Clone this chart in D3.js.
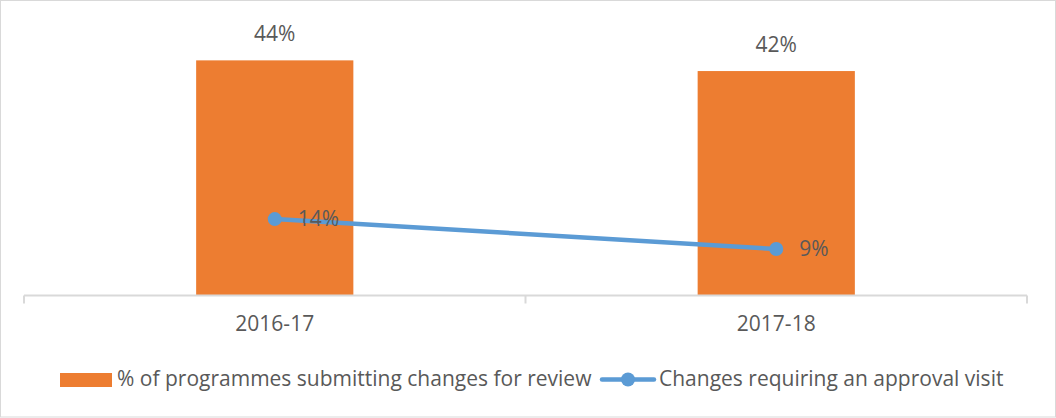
<!DOCTYPE html>
<html>
<head>
<meta charset="utf-8">
<script src="https://cdn.jsdelivr.net/npm/d3@7"></script>
<style>
  body { margin: 0; background: #fff; }
  text { font-family: "Open Sans", "Noto Sans", sans-serif; fill: #595959; }
</style>
</head>
<body>
<div id="chart"></div>
<script>
// chart data
const categories = ["2016-17", "2017-18"];
const barValues = [0.44, 0.42];          // % of programmes submitting changes for review
const lineValues = [0.143, 0.087];       // changes requiring an approval visit
const barLabels = ["44%", "42%"];
const lineLabels = ["14%", "9%"];
const seriesNames = ["% of programmes submitting changes for review", "Changes requiring an approval visit"];

const width = 1056, height = 418;
const barColor = "#ED7D31", lineColor = "#5B9BD5", axisColor = "#d9d9d9";
const fontSize = 21;

const svg = d3.select("#chart").append("svg")
    .attr("width", width)
    .attr("height", height);

// outer chart border
svg.append("rect")
    .attr("x", 0.5).attr("y", 0.5)
    .attr("width", width - 1).attr("height", height - 1.5)
    .attr("fill", "none")
    .attr("stroke", axisColor);

const x = d3.scaleBand()
    .domain(categories)
    .range([24, 1027]);

const y = d3.scaleLinear()
    .domain([0, 0.5])
    .range([295.5, 28.3]);

const barW = x.bandwidth() / 3.19; // gap width ~219%

// bars
svg.append("g").selectAll("rect")
    .data(categories)
    .join("rect")
    .attr("x", d => x(d) + (x.bandwidth() - barW) / 2)
    .attr("y", (d, i) => y(barValues[i]))
    .attr("width", barW)
    .attr("height", (d, i) => y(0) - y(barValues[i]))
    .attr("fill", barColor);

// bar labels
svg.append("g").selectAll("text")
    .data(categories)
    .join("text")
    .attr("x", d => x(d) + x.bandwidth() / 2)
    .attr("y", (d, i) => y(barValues[i]) - 25)
    .attr("text-anchor", "middle")
    .attr("dominant-baseline", "middle")
    .attr("font-size", fontSize)
    .text((d, i) => barLabels[i]);

// x axis: baseline plus outer/inner tick marks
const axis = svg.append("g").attr("transform", `translate(0,${y(0)})`);
axis.append("line")
    .attr("x1", x.range()[0]).attr("x2", x.range()[1])
    .attr("stroke", axisColor).attr("stroke-width", 2);
const tickPos = [x.range()[0]].concat(categories.map(d => x(d) + x.bandwidth()));
axis.selectAll("line.tick")
    .data(tickPos)
    .join("line")
    .attr("class", "tick")
    .attr("x1", d => d).attr("x2", d => d)
    .attr("y1", 0).attr("y2", 8)
    .attr("stroke", axisColor).attr("stroke-width", 2);
axis.selectAll("text")
    .data(categories)
    .join("text")
    .attr("x", d => x(d) + x.bandwidth() / 2)
    .attr("y", 30)
    .attr("text-anchor", "middle")
    .attr("dominant-baseline", "middle")
    .attr("font-size", fontSize)
    .text(d => d);

// line series
const line = d3.line()
    .x((d, i) => x(categories[i]) + x.bandwidth() / 2)
    .y(d => y(d));

svg.append("path")
    .datum(lineValues)
    .attr("d", line)
    .attr("fill", "none")
    .attr("stroke", lineColor)
    .attr("stroke-width", 4.5)
    .attr("stroke-linecap", "round");

svg.append("g").selectAll("circle")
    .data(lineValues)
    .join("circle")
    .attr("cx", (d, i) => x(categories[i]) + x.bandwidth() / 2)
    .attr("cy", d => y(d))
    .attr("r", 7)
    .attr("fill", lineColor);

svg.append("g").selectAll("text")
    .data(lineValues)
    .join("text")
    .attr("x", (d, i) => x(categories[i]) + x.bandwidth() / 2 + 23)
    .attr("y", d => y(d) + 1)
    .attr("dominant-baseline", "middle")
    .attr("font-size", fontSize)
    .text((d, i) => lineLabels[i]);

// legend
const legend = svg.append("g");
legend.append("rect")
    .attr("x", 60).attr("y", 373)
    .attr("width", 52).attr("height", 14)
    .attr("fill", barColor);
legend.append("text")
    .attr("x", 117).attr("y", 380)
    .attr("dominant-baseline", "middle")
    .attr("font-size", fontSize)
    .text(seriesNames[0]);

legend.append("line")
    .attr("x1", 602).attr("x2", 654)
    .attr("y1", 379.5).attr("y2", 379.5)
    .attr("stroke", lineColor)
    .attr("stroke-width", 4.5)
    .attr("stroke-linecap", "round");
legend.append("circle")
    .attr("cx", 628).attr("cy", 379.5)
    .attr("r", 7)
    .attr("fill", lineColor);
legend.append("text")
    .attr("x", 659).attr("y", 380)
    .attr("dominant-baseline", "middle")
    .attr("font-size", fontSize)
    .text(seriesNames[1]);
</script>
</body>
</html>
